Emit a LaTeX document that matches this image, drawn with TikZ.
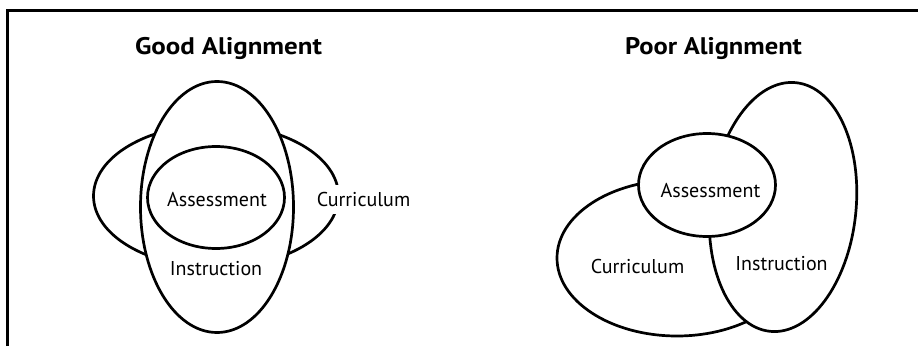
\documentclass[tikz,border=0pt]{standalone}
\usepackage{fontspec}
\usepackage{graphicx}
\setmainfont{PT Sans}
\usetikzlibrary{shapes.geometric}
% set a heading at a given width, keeping its natural height
\newcommand{\headingtext}[2]{\resizebox{#1}{\height}{#2}}
\begin{document}
\begin{tikzpicture}[x=1pt,y=1pt,
  ring/.style={ellipse, draw, line width=2.7pt, fill=white, inner sep=0pt},
  tag/.style={font=\fontsize{20}{24}\selectfont, anchor=base, inner sep=0pt},
  heading/.style={font=\fontsize{24}{28}\selectfont\bfseries, anchor=base, inner sep=0pt}]
\useasboundingbox (0,0) rectangle (918,346);
% open frame: left and top rules
\draw[line width=3pt] (7.5,0) -- (7.5,335.3) -- (918,335.3);

% ---- good alignment: nested ellipses ----
\node[heading] (titleL) at (228.5,291) {\headingtext{187pt}{Good Alignment}};
\node[ring, minimum width=245pt, minimum height=143pt] (curL) at (216,150) {};
\node[ring, minimum width=153pt, minimum height=251pt] (insL) at (217,139) {};
\node[ring, minimum width=137pt, minimum height=102pt] (assL) at (216,148.5) {};
\node[tag] (assLtxt) at (217,139.3) {Assessment};
\node[tag] (insLtxt) at (216,71) {Instruction};
\node[tag, fill=white, inner sep=7pt] (curLtxt) at (363.5,139.3) {Curriculum};

% ---- poor alignment: offset ellipses ----
\node[heading] (titleR) at (713.5,291) {\headingtext{177pt}{Poor Alignment}};
\node[ring, minimum width=240pt, minimum height=156pt] (curR) at (677,88) {};
\node[ring, minimum width=146pt, minimum height=250pt, rotate=-6] (insR) at (783,139) {};
\node[ring, minimum width=137pt, minimum height=103pt] (assR) at (707,161) {};
\node[tag] (assRtxt) at (710.5,148.3) {Assessment};
\node[tag] (curRtxt) at (637.5,73) {Curriculum};
\node[tag] (insRtxt) at (781.5,76) {Instruction};
\end{tikzpicture}
\end{document}
